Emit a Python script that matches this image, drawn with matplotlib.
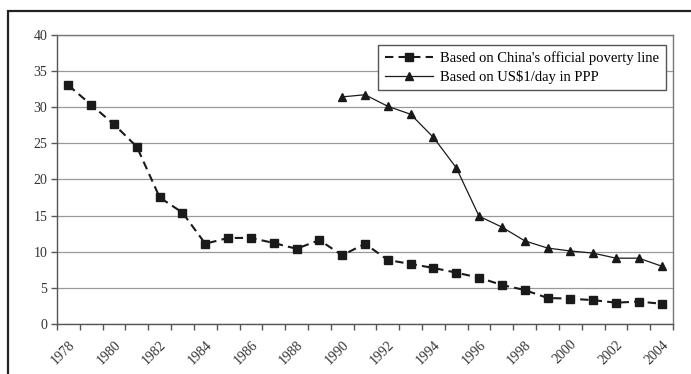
import matplotlib
matplotlib.use("Agg")
import matplotlib.pyplot as plt
from matplotlib.patches import Rectangle
from matplotlib.transforms import ScaledTranslation
import numpy as np

years = list(range(1978, 2005))
official = [33.0, 30.3, 27.6, 24.5, 17.5, 15.4, 11.1, 11.9, 11.9, 11.2, 10.4, 11.6, 9.5,
            11.1, 8.85, 8.3, 7.75, 7.1, 6.4, 5.4, 4.7, 3.6, 3.5, 3.3, 2.95, 3.1, 2.8]
ppp_years = list(range(1990, 2005))
ppp = [31.4, 31.7, 30.1, 29.0, 25.8, 21.6, 14.9, 13.4, 11.5, 10.5, 10.1, 9.8, 9.1, 9.1, 8.0]
label_official = "Based on China's official poverty line"
label_ppp = "Based on US$1/day in PPP"
yticks = [0, 5, 10, 15, 20, 25, 30, 35, 40]

plt.rcParams['font.family'] = ['Liberation Serif', 'DejaVu Serif']

fig = plt.figure(figsize=(6.91, 3.74), dpi=100)
ax = fig.add_axes([57/691, 1 - 324/374, (673-57)/691, (324-34.7)/374])

# outer frame
fig.patches.append(Rectangle((8/691, -0.1), 1.2, 1 - 11/374 + 0.1, transform=fig.transFigure,
                             fill=False, edgecolor='#222222', linewidth=1.6, zorder=0))

xo = [years.index(y) for y in years]
xp = [years.index(y) for y in ppp_years]
ax.plot(xo, official, linestyle=(0, (4, 2.5)), color='#1a1a1a', linewidth=1.5,
        marker='s', markersize=5.5, label=label_official)
ax.plot(xp, ppp, linestyle='-', color='#1a1a1a', linewidth=0.9,
        marker='^', markersize=6, label=label_ppp)

ax.set_ylim(0, 40)
ax.set_yticks(yticks)
ax.set_xlim(-0.5, len(years) - 0.5)
ax.set_xticks(xo[::2])
ax.set_xticklabels([str(y) for y in years[::2]], rotation=45, ha='right', va='top',
                   rotation_mode='anchor', fontsize=10, color='#333333')
off = ScaledTranslation(5/100, 0, fig.dpi_scale_trans)
for lab in ax.get_xticklabels():
    lab.set_transform(lab.get_transform() + off)
ax.set_xticks(np.arange(-0.5, len(years), 1), minor=True)
ax.tick_params(axis='x', which='major', length=0, pad=10)
ax.tick_params(axis='x', which='minor', length=4, width=1, color='#555555', direction='out')
ax.tick_params(axis='y', length=4, width=1, color='#555555', labelsize=10, labelcolor='#333333', pad=3)
ax.grid(axis='y', color='#999999', linewidth=0.9)
ax.set_axisbelow(True)
for s in ax.spines.values():
    s.set_color('#777777')
    s.set_linewidth(1)
ax.spines['left'].set_color('#555555')
ax.spines['bottom'].set_color('#555555')

leg = ax.legend(loc='upper right', bbox_to_anchor=(666/691, 1 - 45/374), bbox_transform=fig.transFigure,
                fontsize=10.5, frameon=True, fancybox=False, edgecolor='#555555',
                handlelength=3.3, borderpad=0.45, labelspacing=0.3, handletextpad=0.5,
                borderaxespad=0)
leg.get_frame().set_linewidth(1)
leg.get_frame().set_alpha(1)

fig.savefig("out.png", dpi=100)
